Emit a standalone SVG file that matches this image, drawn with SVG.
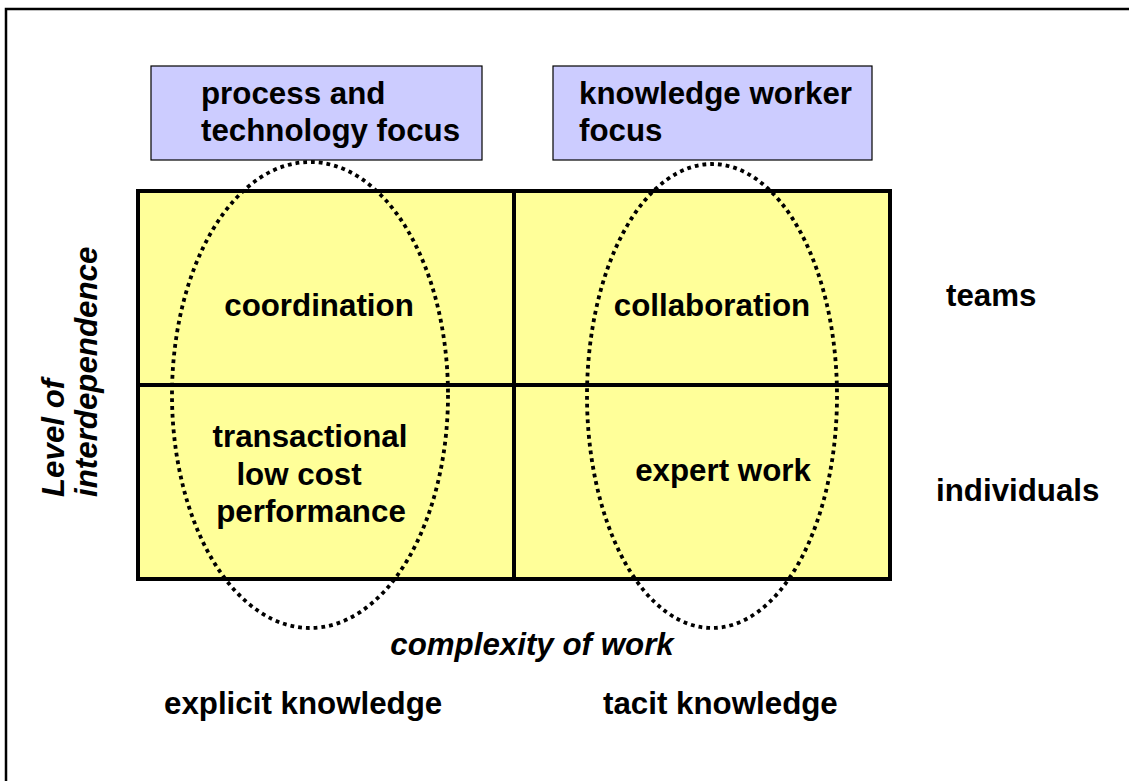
<svg xmlns="http://www.w3.org/2000/svg" width="1129" height="781" viewBox="0 0 1129 781">
  <style>
    .lbl { font-family: "Liberation Sans", Arial, sans-serif; font-weight: bold; font-size: 31.3px; fill: #000; }
    .it { font-style: italic; }
    .focus { fill: #ccccff; stroke: #000; stroke-width: 1.2; }
    .cell { fill: #ffff99; stroke: none; }
    .grid { fill: none; stroke: #000; stroke-width: 4; }
    .oval { fill: none; stroke: #000; stroke-width: 3.8; stroke-dasharray: 3.8 4; }
  </style>
  <rect width="1129" height="781" fill="#fff"/>
  <!-- frame -->
  <path d="M6 781 V9 H1129" fill="none" stroke="#000" stroke-width="2.5"/>

  <!-- header boxes -->
  <g id="process-focus">
    <rect class="focus" x="151" y="66" width="331" height="94"/>
    <text class="lbl" x="201" y="104">process and</text>
    <text class="lbl" x="201" y="141">technology focus</text>
  </g>
  <g id="worker-focus">
    <rect class="focus" x="553" y="66" width="319" height="94"/>
    <text class="lbl" x="579" y="104">knowledge worker</text>
    <text class="lbl" x="579" y="141">focus</text>
  </g>

  <!-- 2x2 matrix -->
  <g id="matrix">
    <rect class="cell" x="138" y="191" width="752" height="388"/>
    <rect class="grid" x="138" y="191" width="752" height="388"/>
    <line class="grid" x1="514" y1="191" x2="514" y2="579"/>
    <line class="grid" x1="138" y1="385" x2="890" y2="385"/>
  </g>
  <g id="coordination">
    <text class="lbl" x="319" y="316" text-anchor="middle">coordination</text>
  </g>
  <g id="collaboration">
    <text class="lbl" x="712" y="316" text-anchor="middle">collaboration</text>
  </g>
  <g id="transactional">
    <text class="lbl" x="310" y="447" text-anchor="middle">transactional</text>
    <text class="lbl" x="299" y="485" text-anchor="middle">low cost</text>
    <text class="lbl" x="311" y="522" text-anchor="middle">performance</text>
  </g>
  <g id="expert-work">
    <text class="lbl" x="723" y="481" text-anchor="middle">expert work</text>
  </g>

  <!-- dotted groupings -->
  <g id="groupings">
    <ellipse class="oval" cx="310" cy="395" rx="138" ry="233"/>
    <ellipse class="oval" cx="712" cy="396" rx="125" ry="232"/>
  </g>

  <!-- axis labels -->
  <g id="row-labels">
    <text class="lbl" x="946" y="306">teams</text>
    <text class="lbl" x="936" y="501">individuals</text>
  </g>
  <g id="y-axis">
    <text class="lbl it" transform="translate(64 497) rotate(-90)">Level of</text>
    <text class="lbl it" transform="translate(97 497) rotate(-90)">interdependence</text>
  </g>
  <g id="x-axis">
    <text class="lbl it" x="532" y="655" text-anchor="middle">complexity of work</text>
    <text class="lbl" x="164" y="714">explicit knowledge</text>
    <text class="lbl" x="603" y="714">tacit knowledge</text>
  </g>
</svg>
